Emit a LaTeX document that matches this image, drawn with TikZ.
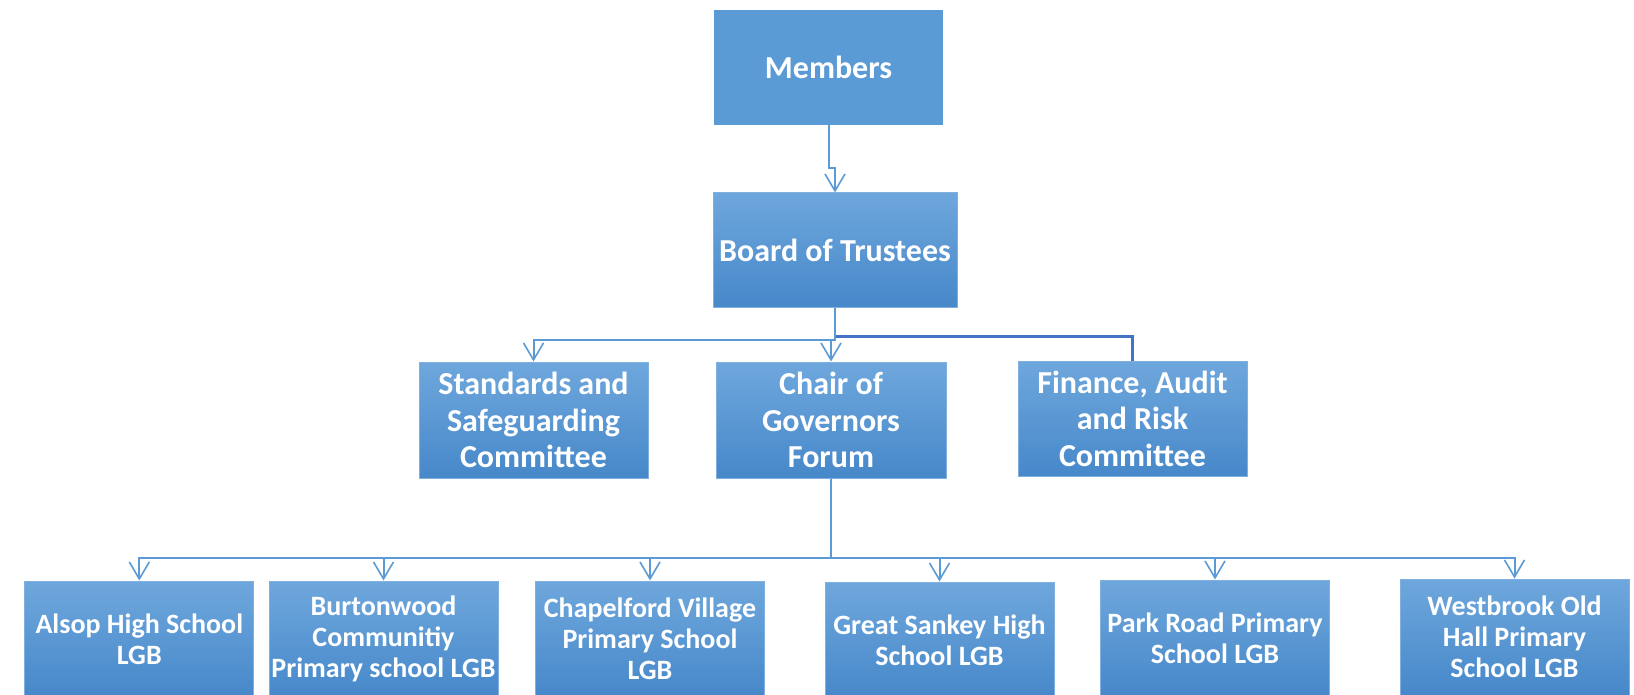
\documentclass[tikz,border=0pt]{standalone}
\usepackage{fontspec}
\setmainfont{Carlito}
\usetikzlibrary{arrows.meta}
\definecolor{flatblue}{HTML}{5B9BD5}
\definecolor{topblue}{HTML}{6EA7DC}
\definecolor{botblue}{HTML}{4788CA}
\definecolor{edgeblue}{HTML}{7FB0E0}
\definecolor{darkline}{HTML}{4472C4}
\tikzset{
  base/.style={inner sep=0pt, align=center, text=white, font=\bfseries\fontsize{32}{36.5}\selectfont},
  flatbox/.style={base, fill=flatblue, minimum width=229pt, minimum height=115pt},
  gradbox/.style={base, draw=edgeblue, line width=1pt, top color=topblue, bottom color=botblue, minimum height=116pt},
  schoolbox/.style={gradbox, minimum width=229pt, font=\bfseries\fontsize{28}{31}\selectfont},
  conn/.style={draw=flatblue, line width=2pt},
  arr/.style={conn, -{Straight Barb[length=17pt,width=20pt,line width=1.6pt]}},
}
\begin{document}
\begin{tikzpicture}[x=1pt,y=-1pt]
\useasboundingbox (0,0) rectangle (1634,695);
\node[flatbox] (members) at (828.5,67.5) {Members};
\node[gradbox, minimum width=244pt, minimum height=114pt] (board) at (835,250) {Board of Trustees};
\node[gradbox, minimum width=229pt] (std) at (533.5,420) {Standards and\\Safeguarding\\Committee};
\node[gradbox, minimum width=230pt] (chair) at (831,420) {Chair of\\Governors\\Forum};
\node[gradbox, minimum width=229pt, minimum height=115pt] (fin) at (1132.5,418.5) {Finance, Audit\\and Risk\\Committee};
\node[schoolbox] (alsop) at (139.3,639) {Alsop High School\\LGB};
\node[schoolbox] (burton) at (383.5,639) {Burtonwood\\Communitiy\\Primary school LGB};
\node[schoolbox] (chapel) at (650,639) {Chapelford Village\\Primary School\\LGB};
\node[schoolbox] (great) at (939.5,640) {Great Sankey High\\School LGB};
\node[schoolbox] (park) at (1215,638) {Park Road Primary\\School LGB};
\node[schoolbox] (west) at (1514.5,637) {Westbrook Old\\Hall Primary\\School LGB};
% connectors
\draw[arr] (members.south) -- ++(0,43) -| (board.north);
\draw[draw=darkline, line width=2.2pt] (board.south) -- ++(0,29) -| (fin.north);
\draw[arr] (board.south) -- ++(0,32) -| (std.north);
\draw[arr] (board.south) -- ++(0,32) -| (chair.north);
\foreach \s in {alsop,burton,chapel,great,park,west}{
  \draw[arr] (chair.south) -- ++(0,79) -| (\s.north);
}
\end{tikzpicture}
\end{document}
